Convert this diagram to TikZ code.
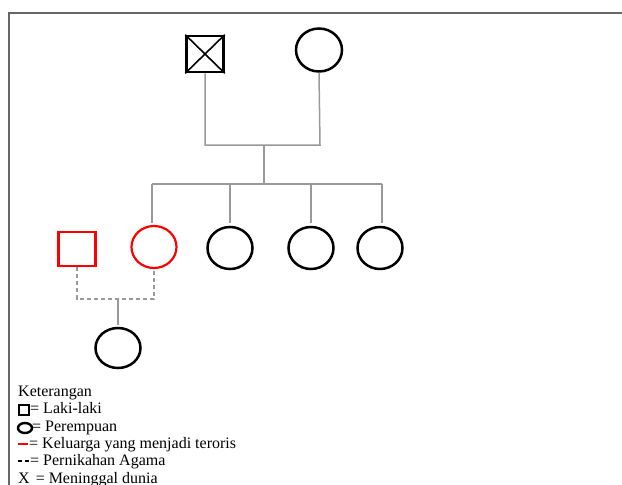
\documentclass[tikz,border=0pt]{standalone}
\usepackage{fontspec}
\setmainfont{Liberation Serif}
\usetikzlibrary{shapes.geometric}
\begin{document}
\begin{tikzpicture}[x=1pt,y=-1pt,
  male/.style={draw=black,line width=2.5pt,rectangle,minimum width=37pt,minimum height=36pt,inner sep=0pt},
  female/.style={draw=black,line width=2.5pt,ellipse,minimum width=45pt,minimum height=42pt,inner sep=0pt},
  terror/.style={draw=red,line width=2.2pt},
  link/.style={draw=black!40,line width=1.5pt},
  religious/.style={draw=black!40,line width=1.5pt,dash pattern=on 4pt off 3pt},
  legend/.style={anchor=base west,inner sep=0pt,font=\fontsize{16}{17}\selectfont}]
\useasboundingbox (0,0) rectangle (622,485);
% frame
\draw[black!60,line width=2pt] (9,485) -- (9,13) -- (622,13);

% first generation
\node[male] (gf) at (205,54) {};
\draw[line width=1.6pt] (gf.north west) -- (gf.south east) (gf.north east) -- (gf.south west);
\node[female,minimum width=46pt,minimum height=43pt] (gm) at (319,50) {};
\coordinate (gfdown) at (205,145);
\coordinate (gmdown) at (320,145);
\coordinate (pmid) at (264,145);
\coordinate (sib) at (264,184);
\draw[link] (gf.south) -- (gfdown) -- (gmdown) -- (gm.south);
\draw[link] (pmid) -- (sib);

% second generation
\node[male,terror,minimum width=37pt,minimum height=34pt] (hb) at (77,249) {};
\node[female,terror] (c1) at (154,247) {};
\node[female] (c2) at (230,248) {};
\node[female] (c3) at (311,248) {};
\node[female] (c4) at (380,248) {};
\coordinate (s1) at (152,184);
\coordinate (s2) at (230,184);
\coordinate (s3) at (311,184);
\coordinate (s4) at (382,184);
\draw[link] (s1) -- (s4);
\draw[link] (s1) -- (152,223);
\draw[link] (s2) -- (230,223);
\draw[link] (s3) -- (311,223);
\draw[link] (s4) -- (382,223);

% religious marriage and child
\coordinate (hbd) at (77,299);
\coordinate (c1d) at (154,299);
\coordinate (cmid) at (118,299);
\draw[religious] (hb.south) -- (hbd) -- (c1d) -- (c1.south);
\node[female,minimum height=40pt] (gc) at (118,348) {};
\draw[link] (cmid) -- (118,325);

% legend
\node[legend] (k0) at (18,396) {Keterangan};
\node[draw=black,line width=2.4pt,rectangle,minimum width=10pt,minimum height=10pt,inner sep=0pt] (lsq) at (24,410) {};
\node[legend] (k1) at (30,413) {= Laki-laki};
\node[draw=black,line width=2.4pt,ellipse,minimum width=14pt,minimum height=10pt,inner sep=0pt] (lci) at (25,428) {};
\node[legend] (k2) at (32,431) {= Perempuan};
\draw[red,line width=1.8pt] (18,444) -- (28,444);
\node[legend] (k3) at (29,448) {= Keluarga yang menjadi teroris};
\draw[black,line width=1.8pt] (18,461) -- (22,461) (25,461) -- (29,461);
\node[legend] (k4) at (30,465) {= Pernikahan Agama};
\node[legend] (k5) at (18,483) {X\hspace{6pt}= Meninggal dunia};
\end{tikzpicture}
\end{document}
